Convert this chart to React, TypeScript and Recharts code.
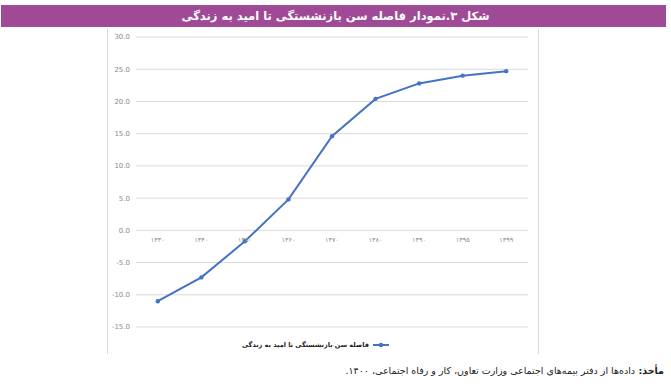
import React from 'react';
import { LineChart, Line, XAxis, YAxis, CartesianGrid } from 'recharts';

const years = ['۱۳۳۰', '۱۳۴۰', '۱۳۵۰', '۱۳۶۰', '۱۳۷۰', '۱۳۸۰', '۱۳۹۰', '۱۳۹۵', '۱۳۹۹'];
const gapValues = [-11.0, -7.3, -1.7, 4.8, 14.6, 20.4, 22.8, 24.0, 24.7];
const yTicks = [-15, -10, -5, 0, 5, 10, 15, 20, 25, 30];
const seriesName = 'فاصله سن بازنشستگی تا امید به زندگی';
const titleText = 'شکل ۳.نمودار فاصله سن بازنشستگی تا امید به زندگی';

const data = years.map((y, i) => ({ year: y, gap: gapValues[i] }));

const W = 671;
const H = 392;
const X_AXIS_H = 1;
const M = { top: 37, right: 143, bottom: 65 - X_AXIS_H, left: 106 };
const Y_MIN = -15;
const Y_MAX = 30;
const plotH = H - M.top - M.bottom - X_AXIS_H;
const zeroOffset = (plotH * (0 - Y_MIN)) / (Y_MAX - Y_MIN);

const FONT = '"DejaVu Sans", sans-serif';

const XTick = (props: any) => {
  const { x, y, payload } = props;
  return (
    <text x={x} y={y - zeroOffset + 4} textAnchor="middle" fontSize={6.5} fill="#8a8a8a" fontFamily={FONT}>
      {payload.value}
    </text>
  );
};

export default function App() {
  return (
    <div style={{ position: 'relative', width: W, height: H, background: '#fff', overflow: 'hidden' }}>
      <style>{'body{margin:0}'}</style>
      <div
        style={{
          position: 'absolute', left: 1, top: 5, width: 665, height: 22, background: '#9f4a96',
          color: '#fff', fontFamily: FONT, fontWeight: 'bold', fontSize: 11.5, direction: 'rtl',
          display: 'flex', alignItems: 'center', justifyContent: 'center', paddingLeft: 4, boxSizing: 'border-box',
        }}
      >
        {titleText}
      </div>
      <div
        style={{
          position: 'absolute', left: 107, top: 29, width: 430, height: 325,
          borderLeft: '1px solid #d9d9d9', borderRight: '1px solid #d9d9d9',
        }}
      />
      <div style={{ position: 'absolute', left: 0, top: 0 }}>
        <LineChart width={W} height={H} data={data} margin={M}>
          <CartesianGrid vertical={false} stroke="#d9d9d9" strokeWidth={1} />
          <XAxis
            dataKey="year"
            axisLine={false}
            tickLine={false}
            tick={<XTick />}
            padding={{ left: 21.8, right: 21.8 }}
            height={X_AXIS_H}
            interval={0}
          />
          <YAxis
            domain={[Y_MIN, Y_MAX]}
            ticks={yTicks}
            width={30}
            axisLine={false}
            tickLine={false}
            tickSize={0}
            tickMargin={6}
            tickFormatter={(v: number) => v.toFixed(1)}
            tick={{ fontSize: 7, fill: '#8a8a8a', fontFamily: FONT }}
          />
          <Line
            type="linear"
            dataKey="gap"
            name={seriesName}
            stroke="#4472C4"
            strokeWidth={2}
            dot={{ r: 2.2, fill: '#4472C4', stroke: '#4472C4', strokeWidth: 0 }}
            isAnimationActive={false}
          />
        </LineChart>
      </div>
      <div
        style={{
          position: 'absolute', left: 0, top: 339, width: W, height: 12,
          display: 'flex', justifyContent: 'center',
        }}
      >
        <div style={{ display: 'flex', alignItems: 'center', direction: 'rtl', marginRight: 40 }}>
          <svg width={16} height={8} style={{ marginLeft: 4 }}>
            <line x1={0} y1={4} x2={16} y2={4} stroke="#4472C4" strokeWidth={2} />
            <circle cx={8} cy={4} r={2.2} fill="#4472C4" />
          </svg>
          <span style={{ fontFamily: FONT, fontSize: 6.5, color: '#222', fontWeight: 'bold' }}>{seriesName}</span>
        </div>
      </div>
      <div
        style={{
          position: 'absolute', right: 7, top: 365, direction: 'rtl', fontFamily: FONT, fontSize: 9.5,
          color: '#222', whiteSpace: 'nowrap',
        }}
      >
        <span style={{ fontWeight: 'bold' }}>مأخذ: </span>
        داده‌ها از دفتر بیمه‌های اجتماعی وزارت تعاون، کار و رفاه اجتماعی، ۱۴۰۰.
      </div>
    </div>
  );
}
